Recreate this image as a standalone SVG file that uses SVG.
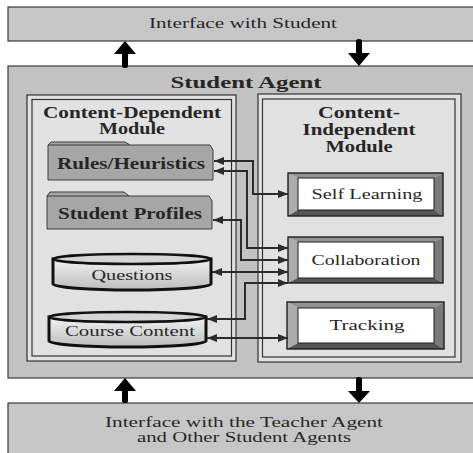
<svg xmlns="http://www.w3.org/2000/svg" width="473" height="453" viewBox="0 0 473 453">
  <style>
    .band { fill: #c6c6c6; stroke: #3a3a3a; stroke-width: 1.2; }
    .agent { fill: #c2c2c2; stroke: #3a3a3a; stroke-width: 1.2; }
    .module { fill: #e1e1e1; stroke: #333; stroke-width: 1.2; }
    .module-in { fill: none; stroke: #333; stroke-width: 1.2; }
    .folder { fill: #a6a6a6; stroke: #3c3c3c; stroke-width: 1; }
    .cyl { fill: url(#cylFill); stroke: #111; stroke-width: 3; }
    .cyl-top { fill: #d6d6d6; stroke: #111; stroke-width: 2.5; }
    .btn-out { fill: none; stroke: #1e1e1e; stroke-width: 1.4; }
    .btn-in { fill: #ffffff; stroke: #1e1e1e; stroke-width: 1; }
    .bev-t { fill: #939393; }
    .bev-l { fill: #acacac; }
    .bev-r { fill: #7a7a7a; }
    .bev-b { fill: #555555; }
    .conn { fill: none; stroke: #2b2b2b; stroke-width: 2; marker-start: url(#tip); marker-end: url(#tip); }
    .fat { fill: #000; }
    text { font-family: "Liberation Serif", "Times New Roman", serif; fill: #262626; text-anchor: middle; }
    .t-reg { font-size: 15px; }
    .t-bold { font-size: 16px; font-weight: bold; }
    .t-title { font-size: 17.5px; font-weight: bold; }
  </style>
  <defs>
    <linearGradient id="cylFill" x1="0" y1="0" x2="0" y2="1">
      <stop offset="0" stop-color="#f2f2f2"/>
      <stop offset="1" stop-color="#bcbcbc"/>
    </linearGradient>
    <marker id="tip" viewBox="0 0 10 8" refX="10" refY="4" markerWidth="11" markerHeight="8" markerUnits="userSpaceOnUse" orient="auto-start-reverse">
      <path d="M0,0 L10,4 L0,8 Z" fill="#2b2b2b"/>
    </marker>
  </defs>

  <!-- top interface bar -->
  <g id="interface-student">
    <rect class="band" x="8" y="7" width="470" height="34"/>
    <text class="t-reg" x="243" y="28" textLength="188" lengthAdjust="spacingAndGlyphs">Interface with Student</text>
  </g>

  <!-- student agent container -->
  <g id="student-agent">
    <rect class="agent" x="8" y="66" width="470" height="312"/>
    <text class="t-title" x="246" y="88" textLength="151" lengthAdjust="spacingAndGlyphs">Student Agent</text>
  </g>

  <!-- content-dependent module -->
  <g id="content-dependent">
    <rect class="module" x="27" y="95" width="209" height="266"/>
    <rect class="module-in" x="32" y="99.5" width="199.5" height="256.5"/>
    <text class="t-bold" x="132" y="118" textLength="178" lengthAdjust="spacingAndGlyphs">Content-Dependent</text>
    <text class="t-bold" x="132" y="134" textLength="66" lengthAdjust="spacingAndGlyphs">Module</text>
  </g>

  <!-- content-independent module -->
  <g id="content-independent">
    <rect class="module" x="258" y="94" width="203" height="268"/>
    <rect class="module-in" x="262.5" y="99" width="192.5" height="258"/>
    <text class="t-bold" x="359" y="118" textLength="82" lengthAdjust="spacingAndGlyphs">Content-</text>
    <text class="t-bold" x="359" y="135" textLength="113" lengthAdjust="spacingAndGlyphs">Independent</text>
    <text class="t-bold" x="359" y="152" textLength="67" lengthAdjust="spacingAndGlyphs">Module</text>
  </g>

  <!-- folder stores -->
  <g id="rules-heuristics">
    <path class="folder" d="M48,180 L48,145 L51,142 L125,142 L130,145 L210,145 L213,150 L213,180 Z"/>
    <path d="M48,145 L130,145" stroke="#3c3c3c" stroke-width="1" fill="none"/>
    <text class="t-bold" x="131" y="169" textLength="148" lengthAdjust="spacingAndGlyphs">Rules/Heuristics</text>
  </g>
  <g id="student-profiles">
    <path class="folder" d="M47,229 L47,196 L50,192 L124,192 L129,196 L209,196 L212,201 L212,229 Z"/>
    <path d="M47,196 L129,196" stroke="#3c3c3c" stroke-width="1" fill="none"/>
    <text class="t-bold" x="130" y="219" textLength="144" lengthAdjust="spacingAndGlyphs">Student Profiles</text>
  </g>

  <!-- database cylinders -->
  <g id="questions">
    <path class="cyl" d="M53,259 L53,284 A79,6 0 0 0 211,284 L211,259 Z"/>
    <ellipse class="cyl-top" cx="132" cy="259" rx="79" ry="5"/>
    <text class="t-reg" x="132" y="280" textLength="81" lengthAdjust="spacingAndGlyphs">Questions</text>
  </g>
  <g id="course-content">
    <path class="cyl" d="M49,317 L49,341 A78.5,6 0 0 0 206,341 L206,317 Z"/>
    <ellipse class="cyl-top" cx="127.5" cy="317" rx="78.5" ry="5"/>
    <text class="t-reg" x="130" y="336" textLength="130" lengthAdjust="spacingAndGlyphs">Course Content</text>
  </g>

  <!-- bevelled function boxes -->
  <g id="self-learning">
    <path class="bev-t" d="M288,173 L443,173 L434,178 L298,178 Z"/>
    <path class="bev-l" d="M288,173 L298,178 L298,210 L288,216 Z"/>
    <path class="bev-r" d="M443,173 L443,216 L434,210 L434,178 Z"/>
    <path class="bev-b" d="M288,216 L298,210 L434,210 L443,216 Z"/>
    <rect class="btn-out" x="288" y="173" width="155" height="43"/>
    <rect class="btn-in" x="298" y="178" width="136" height="32"/>
    <text class="t-reg" x="367" y="199" textLength="111" lengthAdjust="spacingAndGlyphs">Self Learning</text>
  </g>
  <g id="collaboration">
    <path class="bev-t" d="M288,237 L443,237 L434,242 L298,242 Z"/>
    <path class="bev-l" d="M288,237 L298,242 L298,278 L288,283 Z"/>
    <path class="bev-r" d="M443,237 L443,283 L434,278 L434,242 Z"/>
    <path class="bev-b" d="M288,283 L298,278 L434,278 L443,283 Z"/>
    <rect class="btn-out" x="288" y="237" width="155" height="46"/>
    <rect class="btn-in" x="298" y="242" width="136" height="36"/>
    <text class="t-reg" x="366" y="265" textLength="109" lengthAdjust="spacingAndGlyphs">Collaboration</text>
  </g>
  <g id="tracking">
    <path class="bev-t" d="M287,302 L444,302 L434,308 L298,308 Z"/>
    <path class="bev-l" d="M287,302 L298,308 L298,343 L287,349 Z"/>
    <path class="bev-r" d="M444,302 L444,349 L434,343 L434,308 Z"/>
    <path class="bev-b" d="M287,349 L298,343 L434,343 L444,349 Z"/>
    <rect class="btn-out" x="287" y="302" width="157" height="47"/>
    <rect class="btn-in" x="298" y="308" width="136" height="35"/>
    <text class="t-reg" x="367" y="330" textLength="75" lengthAdjust="spacingAndGlyphs">Tracking</text>
  </g>

  <!-- bottom interface bar -->
  <g id="interface-agents">
    <rect class="band" x="8" y="403" width="470" height="55"/>
    <text class="t-reg" x="244" y="427" textLength="278" lengthAdjust="spacingAndGlyphs">Interface with the Teacher Agent</text>
    <text class="t-reg" x="244" y="442" textLength="214" lengthAdjust="spacingAndGlyphs">and Other Student Agents</text>
  </g>

  <!-- connectors -->
  <g id="connectors">
    <path class="conn" d="M214,161 H253 V194 H288"/>
    <path class="conn" d="M214,171 H247 V248 H288"/>
    <path class="conn" d="M213,220 H241 V260 H288"/>
    <path class="conn" d="M212,272 H288"/>
    <path class="conn" d="M207,319 H245 V283 H288"/>
    <path class="conn" d="M207,338 H288"/>

    <!-- block arrows between the agent and its interfaces -->
    <path class="fat" d="M125,41 L136,54 L128,54 L128,66 Q128,68 125,68 Q122,68 122,66 L122,54 L114,54 Z"/>
    <path class="fat" d="M359,66 L370,53 L362,53 L362,41 Q362,39 359,39 Q356,39 356,41 L356,53 L348,53 Z"/>
    <path class="fat" d="M125,378 L136,391 L128,391 L128,401 Q128,403 125,403 Q122,403 122,401 L122,391 L114,391 Z"/>
    <path class="fat" d="M359,403 L370,391 L362,391 L362,379 Q362,377 359,377 Q356,377 356,379 L356,391 L348,391 Z"/>
  </g>
</svg>
